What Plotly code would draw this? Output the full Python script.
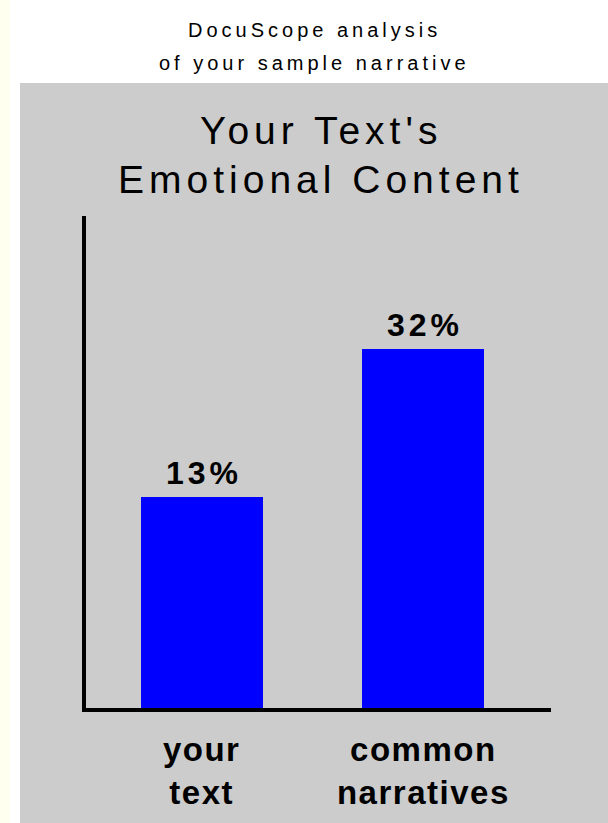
import numpy as np
import plotly.graph_objects as go

# ---- data ----
categories = ["your text", "common narratives"]
tick_labels = ["your<br>text", "common<br>narratives"]
values = [13, 32]
value_labels = ["13%", "32%"]

subtitle_lines = ["DocuScope analysis", "of your sample narrative"]
title_lines = ["Your Text's", "Emotional Content"]

# ---- page geometry (pixels) ----
W, H = 608, 823
L, R, T, B = 86, 551, 216, 708          # plot area edges
PW, PH = R - L, B - T


def px(x):
    return (x - L) / PW


def py(y):
    return (B - y) / PH


def spaced(text, sp):
    return f'<span style="letter-spacing:{sp}px">{text}</span>'


FONT = "Liberation Sans, Arial, sans-serif"

fig = go.Figure()
fig.add_trace(go.Bar(
    x=categories,
    y=values,
    width=0.55,
    marker=dict(color="#0000FF", line=dict(width=0)),
    hoverinfo="skip",
))

# value labels above bars
for cat, v, lab in zip(categories, values, value_labels):
    fig.add_annotation(
        x=cat, y=np.log10(v), xref="x", yref="y",
        text=spaced(lab, 4), showarrow=False,
        yanchor="bottom", yshift=4, xshift=2,
        font=dict(family=FONT, size=32, color="black", weight="bold"),
    )

# subtitle above the grey panel
for line, yc in zip(subtitle_lines, [30, 63]):
    fig.add_annotation(
        x=px(314), y=py(yc), xref="paper", yref="paper",
        text=spaced(line, 4), showarrow=False,
        xanchor="center", yanchor="middle",
        font=dict(family=FONT, size=20, color="black"),
    )

# chart title inside the panel
for line, yc in zip(title_lines, [130, 180]):
    fig.add_annotation(
        x=px(321), y=py(yc), xref="paper", yref="paper",
        text=spaced(line, 5), showarrow=False,
        xanchor="center", yanchor="middle",
        font=dict(family=FONT, size=39, color="black"),
    )

# background: ivory edge strip, white page, grey panel
fig.add_shape(type="rect", xref="paper", yref="paper", layer="below",
              x0=px(0), x1=px(10), y0=py(0), y1=py(H),
              fillcolor="#FFFFF0", line=dict(width=0))
fig.add_shape(type="rect", xref="paper", yref="paper", layer="below",
              x0=px(20), x1=px(W), y0=py(83), y1=py(H),
              fillcolor="#CCCCCC", line=dict(width=0))

fig.update_layout(
    width=W, height=H,
    margin=dict(l=L, r=W - R, t=T, b=H - B, pad=0, autoexpand=False),
    paper_bgcolor="#FFFFFF",
    plot_bgcolor="rgba(0,0,0,0)",
    showlegend=False,
    bargap=0,
)
fig.update_xaxes(
    type="category",
    range=[-0.522, 1.576],
    tickvals=categories, ticktext=[spaced(t, 1.5) for t in tick_labels],
    tickfont=dict(family=FONT, size=33, color="black", weight="bold"),
    ticks="", ticklabelstandoff=9,
    showline=True, linewidth=4, linecolor="black",
    showgrid=False, zeroline=False, automargin=False,
)
fig.update_yaxes(
    type="log",
    range=[0.553, 1.859],
    showticklabels=False, ticks="",
    showline=True, linewidth=4, linecolor="black",
    showgrid=False, zeroline=False, automargin=False,
)

fig.write_html("out.html")
